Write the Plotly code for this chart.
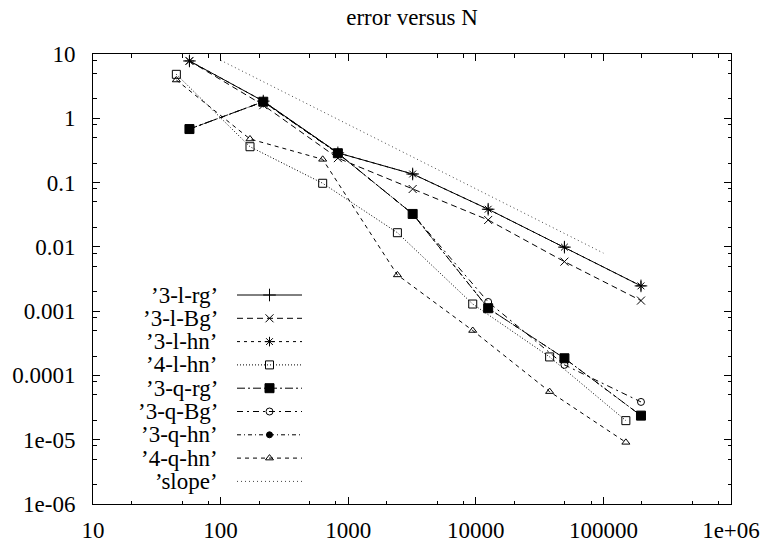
import plotly.graph_objects as go

# ---------------- data ----------------
N_3 = [57, 216, 830, 3200, 12500, 49500, 197000]
N_4 = [45, 170, 631, 2430, 9460, 37900, 150000]

err_3_l_rg = [7.8, 1.85, 0.29, 0.136, 0.0385, 0.0099, 0.00247]
err_3_l_Bg = [7.8, 1.6, 0.24, 0.0794, 0.0262, 0.00589, 0.00146]
err_3_l_hn = [7.8, 1.85, 0.29, 0.136, 0.0385, 0.0099, 0.00247]
err_4_l_hn = [4.83, 0.361, 0.0975, 0.0166, 0.00129, 0.000194, 1.98e-5]
err_3_q_rg = [0.68, 1.81, 0.286, 0.0325, 0.00111, 0.000185, 2.37e-5]
err_3_q_Bg = [0.68, 1.81, 0.286, 0.0325, 0.00139, 0.000146, 3.87e-5]
err_3_q_hn = [0.68, 1.81, 0.286, 0.0325, 0.00111, 0.000185, 2.37e-5]
err_4_q_hn = [3.94, 0.476, 0.23, 0.00366, 0.0005, 5.6e-5, 9.1e-6]

slope_N = [100, 100000]
slope_err = [8, 0.008]

series_names = ["’3-l-rg’", "’3-l-Bg’", "’3-l-hn’", "’4-l-hn’",
                "’3-q-rg’", "’3-q-Bg’", "’3-q-hn’", "’4-q-hn’", "’slope’"]

x_tickvals = [10, 100, 1000, 10000, 100000, 1000000]
x_ticktext = ["10", "100", "1000", "10000", "100000", "1e+06"]
y_tickvals = [10, 1, 0.1, 0.01, 0.001, 0.0001, 1e-5, 1e-6]
y_ticktext = ["10", "1", "0.1", "0.01", "0.001", "0.0001", "1e-05", "1e-06"]

# ---------------- styles ----------------
W, H = 768, 542
L, R, T, B = 93, 37, 54, 38
FONT = "Liberation Serif"
FS = 23

styles = [
    # (x, y, dash, symbol, size)
    (N_3, err_3_l_rg, "solid", "cross-thin-open", 9),
    (N_3, err_3_l_Bg, "6px,4px", "x-thin-open", 8),
    (N_3, err_3_l_hn, "3px,4px", "asterisk-open", 8),
    (N_4, err_4_l_hn, "1px,2px", "square-open", 8),
    (N_3, err_3_q_rg, "8px,3px,2px,3px", "square", 9),
    (N_3, err_3_q_Bg, "6px,4px,2px,4px", "circle-open", 7),
    (N_3, err_3_q_hn, "4px,3px,1px,3px", "circle", 6),
    (N_4, err_4_q_hn, "4px,4px", "triangle-up-open", 7),
    (slope_N, slope_err, "1px,3px", None, 0),
]

fig = go.Figure()

for (xs, ys, dash, sym, sz) in styles:
    if sym is None:
        fig.add_trace(go.Scatter(x=xs, y=ys, mode="lines",
                                 line=dict(color="#444", width=1, dash=dash),
                                 showlegend=False, hoverinfo="skip"))
    else:
        fig.add_trace(go.Scatter(x=xs, y=ys, mode="lines+markers",
                                 line=dict(color="black", width=1, dash=dash),
                                 marker=dict(symbol=sym, size=sz, color="black",
                                             line=dict(color="black", width=1)),
                                 showlegend=False, hoverinfo="skip"))

# ---------------- custom legend (text left, sample right) ----------------
leg_x0, leg_x1, leg_text_x = 237, 302, 220
leg_y0, leg_dy = 295, 23.3
for i, (name, st) in enumerate(zip(series_names, styles)):
    _, _, dash, sym, sz = st
    ry = leg_y0 + i * leg_dy
    fig.add_trace(go.Scatter(x=[leg_x0, leg_x1], y=[ry, ry], mode="lines",
                             xaxis="x2", yaxis="y2",
                             line=dict(color="#444" if sym is None else "black", width=1, dash=dash),
                             showlegend=False, hoverinfo="skip"))
    if sym is not None:
        fig.add_trace(go.Scatter(x=[(leg_x0 + leg_x1) / 2], y=[ry], mode="markers",
                                 xaxis="x2", yaxis="y2",
                                 marker=dict(symbol=sym, size=sz, color="black",
                                             line=dict(color="black", width=1)),
                                 showlegend=False, hoverinfo="skip"))
    fig.add_annotation(x=leg_text_x, y=ry, xref="x2", yref="y2", text=name,
                       showarrow=False, xanchor="right", yanchor="middle",
                       font=dict(family=FONT, size=FS, color="black"))

x_minor = [m * 10 ** k for k in range(1, 6) for m in (2, 5, 8)]
y_minor = [m * 10.0 ** k for k in range(-6, 1) for m in (2, 5, 8)]

axis_common = dict(showline=True, linecolor="black", linewidth=1, mirror="ticks",
                   ticks="inside", ticklen=7, tickwidth=1, tickcolor="black",
                   showgrid=False, zeroline=False,
                   tickfont=dict(family=FONT, size=FS, color="black"))

fig.update_layout(
    width=W, height=H,
    margin=dict(l=L, r=R, t=T, b=B, autoexpand=False),
    paper_bgcolor="white", plot_bgcolor="white",
    title=dict(text="error versus N", x=(L + (W - R)) / 2 / W, xanchor="center",
               y=1 - 17 / H, yanchor="middle", yref="container",
               font=dict(family=FONT, size=FS, color="black")),
    xaxis=dict(type="log", range=[1, 6], tickmode="array",
               tickvals=x_tickvals, ticktext=x_ticktext, ticklabelstandoff=5,
               minor=dict(tickmode="array", tickvals=x_minor, ticks="inside",
                          ticklen=3.5, tickcolor="black", tickwidth=1, showgrid=False),
               **axis_common),
    yaxis=dict(type="log", range=[-6, 1], tickmode="array",
               tickvals=y_tickvals, ticktext=y_ticktext, ticklabelstandoff=12,
               minor=dict(tickmode="array", tickvals=y_minor, ticks="inside",
                          ticklen=3.5, tickcolor="black", tickwidth=1, showgrid=False),
               **axis_common),
    xaxis2=dict(overlaying="x", range=[L, W - R], visible=False, fixedrange=True),
    yaxis2=dict(overlaying="y", range=[H - B, T], visible=False, fixedrange=True),
)

fig.write_html("out.html")
